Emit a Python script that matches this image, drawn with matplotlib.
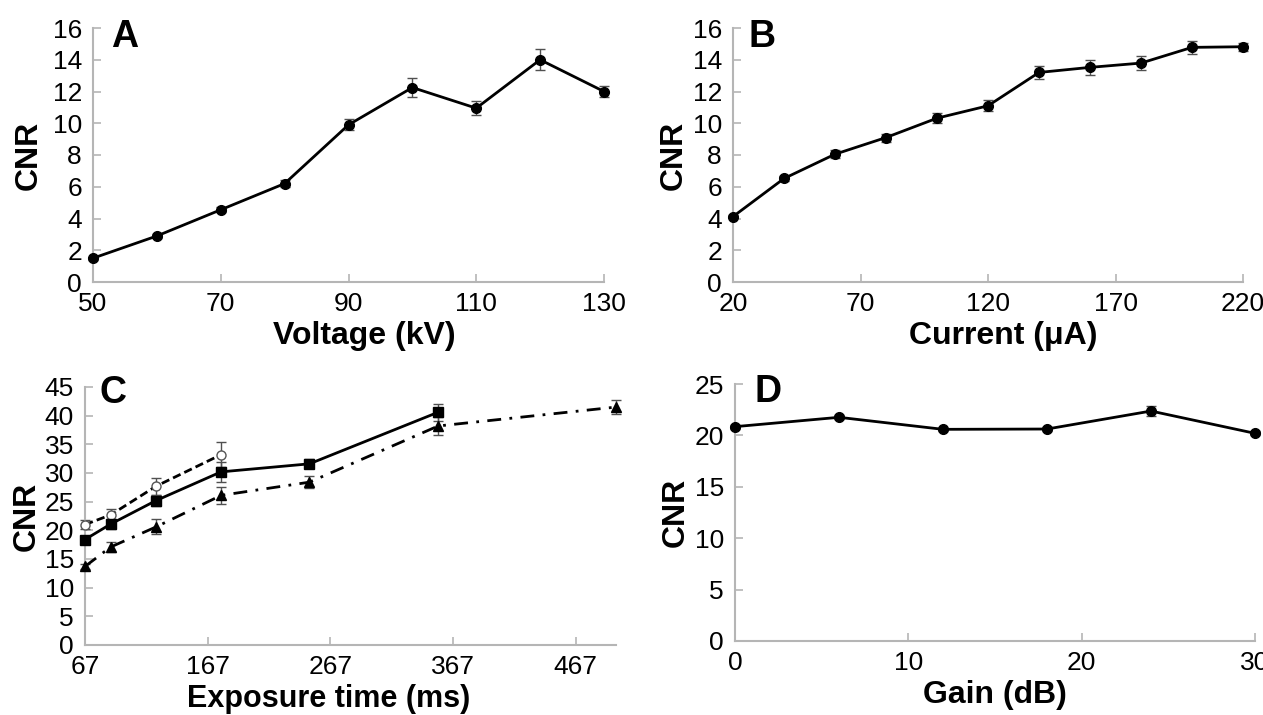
import matplotlib
matplotlib.use("Agg")
import matplotlib.pyplot as plt

plt.rcParams['font.family'] = ['Liberation Sans', 'DejaVu Sans']

# ---- Data ----
volt_x = [50, 60, 70, 80, 90, 100, 110, 120, 130]
volt_y = [1.5, 2.9, 4.55, 6.2, 9.9, 12.25, 10.95, 14.0, 12.0]
volt_err = [0.1, 0.1, 0.15, 0.2, 0.35, 0.6, 0.45, 0.67, 0.36]

curr_x = [20, 40, 60, 80, 100, 120, 140, 160, 180, 200, 220]
curr_y = [4.12, 6.52, 8.05, 9.1, 10.32, 11.1, 13.2, 13.52, 13.79, 14.78, 14.82]
curr_err = [0.1, 0.15, 0.25, 0.25, 0.3, 0.35, 0.4, 0.45, 0.45, 0.4, 0.25]

exp_sq_x = [67, 88, 125, 178, 250, 355]
exp_sq_y = [18.4, 21.1, 25.2, 30.2, 31.6, 40.6]
exp_sq_err = [0.6, 0.8, 0.9, 1.8, 0.8, 1.5]

exp_ci_x = [67, 88, 125, 178]
exp_ci_y = [21.0, 22.7, 27.7, 33.2]
exp_ci_err = [0.8, 1.0, 1.5, 2.2]

exp_tr_x = [67, 88, 125, 178, 250, 355, 500]
exp_tr_y = [13.7, 17.1, 20.6, 26.1, 28.4, 38.2, 41.5]
exp_tr_err = [0.5, 0.8, 1.3, 1.5, 1.0, 1.5, 1.2]

gain_x = [0, 6, 12, 18, 24, 30]
gain_y = [20.85, 21.76, 20.59, 20.62, 22.37, 20.2]
gain_err = [0.2, 0.2, 0.15, 0.15, 0.5, 0.2]

W, H = 1263, 715
fig = plt.figure(figsize=(W / 100, H / 100), dpi=100)

def add_ax(l, r, t, b):
    return fig.add_axes([l / W, 1 - b / H, (r - l) / W, (b - t) / H])

AXC = '#b5b5b5'
ERRC = '#505050'
TICKFS = 19

def style(ax, xlim, ylim, xticks, yticks, xlabel, letter, lx, ly,
          xlab_x=0.5, labfs=23, ylabpad=6):
    ax.set_xlim(*xlim)
    ax.set_ylim(*ylim)
    ax.set_xticks(xticks)
    ax.set_yticks(yticks)
    for s in ['top', 'right']:
        ax.spines[s].set_visible(False)
    for s in ['left', 'bottom']:
        ax.spines[s].set_color(AXC)
        ax.spines[s].set_linewidth(1.5)
    ax.tick_params(direction='in', length=6, width=1.2, color=AXC,
                   labelsize=TICKFS, labelcolor='black')
    ax.tick_params(axis='y', pad=8)
    ax.tick_params(axis='x', pad=7)
    ax.set_xlabel(xlabel, fontsize=labfs, fontweight='bold', labelpad=4)
    ax.xaxis.label.set_x(xlab_x)
    ax.set_ylabel('CNR', fontsize=23, fontweight='bold', labelpad=ylabpad)
    ax.text(lx, ly, letter, transform=ax.transAxes, fontsize=27,
            fontweight='bold', va='top', ha='left')
    for lab in ax.get_xticklabels() + ax.get_yticklabels():
        lab.set_clip_on(False)

def series(ax, x, y, e, marker='o', ls='-', ms=7, mfc='black', mec='black'):
    ax.errorbar(x, y, yerr=e, fmt='none', ecolor=ERRC, elinewidth=1,
                capsize=3.5, capthick=1, zorder=2, clip_on=False)
    ax.plot(x, y, color='black', lw=2, ls=ls, marker=marker, ms=ms,
            mfc=mfc, mec=mec, zorder=3, clip_on=False)

# Panel A
axA = add_ax(93, 604, 28, 282)
series(axA, volt_x, volt_y, volt_err)
style(axA, (50, 130), (0, 16), [50, 70, 90, 110, 130], range(0, 17, 2),
      'Voltage (kV)', 'A', 0.035, 1.035, xlab_x=0.53)

# Panel B
axB = add_ax(733, 1243, 28, 282)
series(axB, curr_x, curr_y, curr_err)
style(axB, (20, 220), (0, 16), [20, 70, 120, 170, 220], range(0, 17, 2),
      'Current (μA)', 'B', 0.03, 1.035, xlab_x=0.53, ylabpad=3)

# Panel C
axC = add_ax(85, 616, 387, 645)
series(axC, exp_ci_x, exp_ci_y, exp_ci_err, marker='o', ls=(0, (3, 1.5)), ms=6.5,
       mfc='white', mec='#555555')
series(axC, exp_sq_x, exp_sq_y, exp_sq_err, marker='s', ls='-', ms=7.5)
series(axC, exp_tr_x, exp_tr_y, exp_tr_err, marker='^', ls=(0, (5, 3, 1, 3)), ms=7.5)
style(axC, (67, 500), (0, 45), [67, 167, 267, 367, 467], range(0, 46, 5),
      'Exposure time (ms)', 'C', 0.028, 1.045, xlab_x=0.458, labfs=22, ylabpad=2)

# Panel D
axD = add_ax(735, 1255, 384, 641)
series(axD, gain_x, gain_y, gain_err)
style(axD, (0, 30), (0, 25), [0, 10, 20, 30], range(0, 26, 5),
      'Gain (dB)', 'D', 0.038, 1.04, ylabpad=3)

fig.savefig('out.png', dpi=100)
